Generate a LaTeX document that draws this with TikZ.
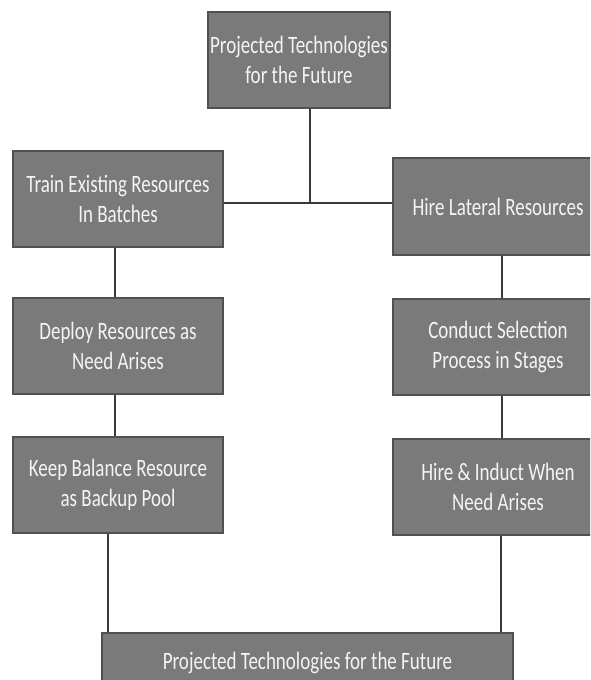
\documentclass[tikz,border=0pt]{standalone}
\usepackage{fontspec}
\setmainfont{Carlito}[FakeStretch=0.76]
\usetikzlibrary{positioning}
\definecolor{boxgray}{HTML}{7A7A7A}
\definecolor{boxgrayborder}{HTML}{505050}
\definecolor{linkdark}{HTML}{3A3A3A}
\definecolor{labelwhite}{HTML}{F4F4F4}

\begin{document}
\begin{tikzpicture}[x=1pt, y=-1pt,
    planbox/.style={draw=boxgrayborder, fill=boxgray, line width=1.8pt,
      text=labelwhite, align=center, inner sep=0pt,
      font=\fontsize{25}{30}\selectfont,
      minimum width=210pt, minimum height=96pt},
    link/.style={draw=linkdark, line width=1.4pt}]
      \clip (0,0) rectangle (590,680);
      \fill[white] (0,0) rectangle (590,680);

      \node[planbox, minimum width=182pt] (future) at (299,60)
        {Projected Technologies\\for the Future};

      \node[planbox] (train) at (118,199)
        {Train Existing Resources\\In Batches};
      \node[planbox, below=49pt of train] (deploy)
        {Deploy Resources as\\Need Arises};
      \node[planbox, below=41pt of deploy] (keep)
        {Keep Balance Resource\\as Backup Pool};

      \node[planbox, minimum height=97pt] (hire) at (498,206.5)
        {Hire Lateral Resources};
      \node[planbox, below=42pt of hire] (conduct)
        {Conduct Selection\\Process in Stages};
      \node[planbox, below=42pt of conduct] (induct)
        {Hire \& Induct When\\Need Arises};

      \node[planbox, minimum width=411pt, minimum height=60pt]
        (futurebase) at (307.5,663)
        {Projected Technologies for the Future};

      \coordinate (junc) at (310,203);
      \draw[link] (future.south -| junc) -- (junc);
      \draw[link] (train.east |- junc) -- (hire.west |- junc);

      \draw[link] ([xshift=-3pt]train.south) -- ([xshift=-3pt]deploy.north);
      \draw[link] ([xshift=-3pt]deploy.south) -- ([xshift=-3pt]keep.north);
      \draw[link] ([xshift=-10pt]keep.south)
        -- ([xshift=-10pt]keep.south |- futurebase.north);

      \draw[link] ([xshift=4pt]hire.south) -- ([xshift=4pt]conduct.north);
      \draw[link] ([xshift=4pt]conduct.south) -- ([xshift=4pt]induct.north);
      \draw[link] ([xshift=3pt]induct.south)
        -- ([xshift=3pt]induct.south |- futurebase.north);
    \end{tikzpicture}
\end{document}
